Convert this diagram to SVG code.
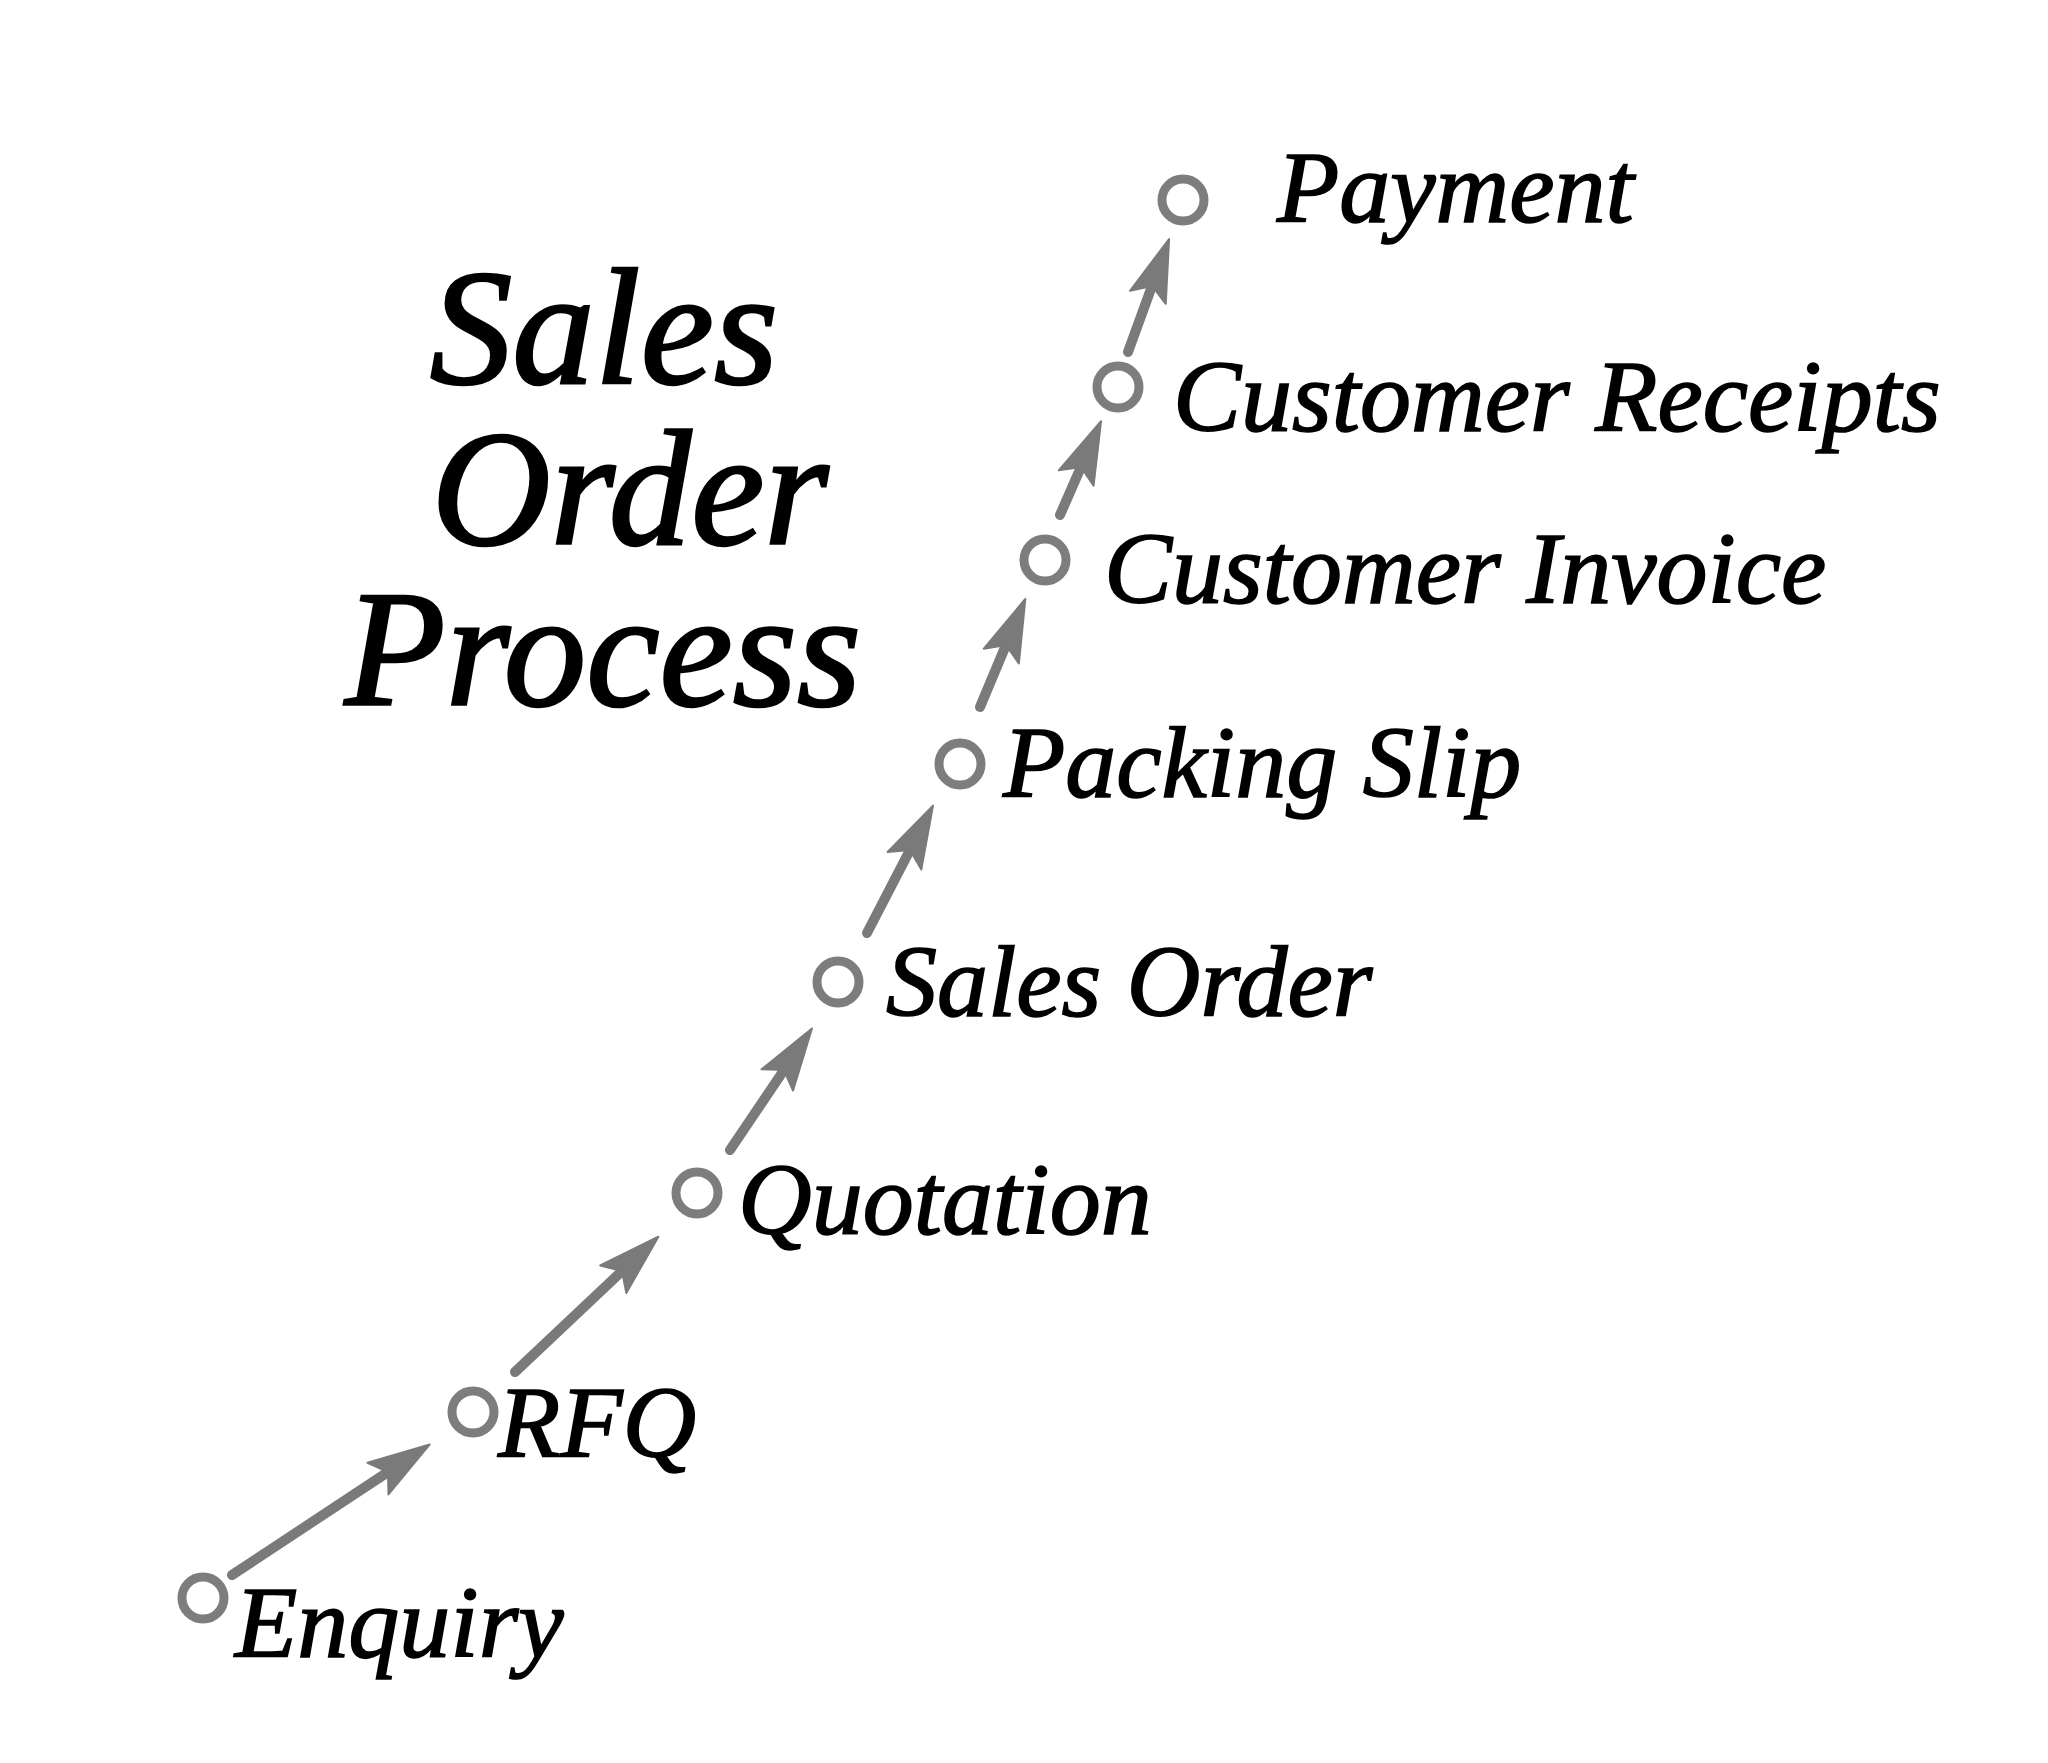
<svg xmlns="http://www.w3.org/2000/svg" width="2048" height="1763" viewBox="0 0 2048 1763">
<style>
.node circle{fill:none;stroke:#7d7d7d;stroke-width:9}
.lbl{font-family:"Liberation Serif","Times New Roman",serif;font-style:italic;font-size:102px;fill:#000;stroke:#000;stroke-width:1.6}
.title{font-family:"Liberation Serif","Times New Roman",serif;font-style:italic;font-size:165px;fill:#000;stroke:#000;stroke-width:2.6;text-anchor:middle}
.conn line{stroke:#7a7a7a;stroke-width:10;stroke-linecap:round;marker-end:url(#ah)}
</style>
<defs>
<marker id="ah" markerUnits="userSpaceOnUse" markerWidth="200" markerHeight="200" refX="0" refY="0" orient="auto" overflow="visible">
<path d="M50,0 L-12,-19 L0,0 L-12,19 Z" fill="#7a7a7a" stroke="#7a7a7a" stroke-width="2" stroke-linejoin="round"/>
</marker>
</defs>
<rect width="2048" height="1763" fill="#fff"/>
<g id="title">
<text class="title"><tspan x="604" y="383">Sales</tspan><tspan x="630" y="544">Order</tspan><tspan x="603" y="705">Process</tspan></text>
</g>
<g id="connectors" class="conn">
<line x1="232" y1="1575" x2="388" y2="1472"/>
<line x1="515" y1="1372" x2="622" y2="1271"/>
<line x1="730" y1="1150" x2="784" y2="1070"/>
<line x1="867" y1="933" x2="910" y2="850"/>
<line x1="980" y1="707" x2="1006" y2="645"/>
<line x1="1060" y1="515" x2="1081" y2="467"/>
<line x1="1128" y1="352" x2="1152" y2="286"/>
</g>
<g id="enquiry" class="node"><circle cx="203" cy="1598" r="21"/><text class="lbl" x="235" y="1657">Enquiry</text></g>
<g id="rfq" class="node"><circle cx="473" cy="1412" r="21"/><text class="lbl" x="498" y="1457">RFQ</text></g>
<g id="quotation" class="node"><circle cx="697" cy="1193" r="21"/><text class="lbl" x="738" y="1234">Quotation</text></g>
<g id="sales-order" class="node"><circle cx="838" cy="982" r="21"/><text class="lbl" x="886" y="1016">Sales Order</text></g>
<g id="packing-slip" class="node"><circle cx="960" cy="764" r="21"/><text class="lbl" x="1003" y="797">Packing Slip</text></g>
<g id="customer-invoice" class="node"><circle cx="1045" cy="560" r="21"/><text class="lbl" x="1104" y="603">Customer Invoice</text></g>
<g id="customer-receipts" class="node"><circle cx="1118" cy="387" r="21"/><text class="lbl" x="1173" y="431">Customer Receipts</text></g>
<g id="payment" class="node"><circle cx="1183" cy="200" r="21"/><text class="lbl" x="1277" y="222">Payment</text></g>
</svg>
